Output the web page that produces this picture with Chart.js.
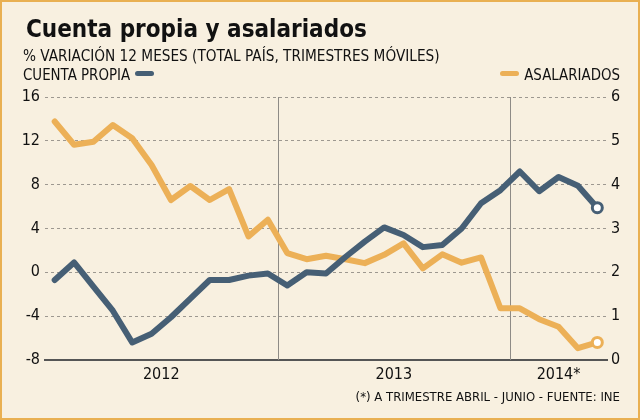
<!DOCTYPE html>
<html lang="es">
<head>
<meta charset="UTF-8">
<title>Cuenta propia y asalariados</title>
<script src="https://cdn.jsdelivr.net/npm/chart.js"></script>
<style>
  html, body { margin: 0; padding: 0; }
  body {
    width: 640px; height: 420px; position: relative; overflow: hidden;
    background: #f8f0e0; color: #111;
    font-family: 'DejaVu Sans Condensed', 'Liberation Sans Narrow', sans-serif;
  }
  #chart { position: absolute; left: 0; top: 0; }
  #frame {
    position: absolute; left: 0; top: 0; width: 640px; height: 420px;
    box-sizing: border-box; border: 2px solid #e9b052; pointer-events: none;
  }
  .txt { position: absolute; white-space: nowrap; line-height: 1; }
  #title { left: 26px; top: 16.5px; font-size: 24px; font-weight: bold; }
  #subtitle { left: 23px; top: 47.5px; font-size: 16px; transform: scaleX(0.95); transform-origin: left; }
  #legLeft { left: 23px; top: 66.5px; font-size: 16px; }
  #legLeft .lbl { display: inline-block; transform: scaleX(0.93); transform-origin: left; margin-right: -8px; }
  #legRight { right: 20px; top: 66.5px; font-size: 16px; }
  #legRight .lbl { display: inline-block; transform: scaleX(0.93); transform-origin: right; margin-left: -7px; }
  .swatch { display: inline-block; width: 19px; height: 5px; border-radius: 3px; vertical-align: 3.5px; }
  #note { right: 20px; top: 389.5px; font-size: 13px; }
</style>
</head>
<body>
  <canvas id="chart" width="640" height="420"></canvas>
  <div class="txt" id="title">Cuenta propia y asalariados</div>
  <div class="txt" id="subtitle">% VARIACIÓN 12 MESES (TOTAL PAÍS, TRIMESTRES MÓVILES)</div>
  <div class="txt" id="legLeft"><span class="lbl">CUENTA PROPIA</span> <span class="swatch" style="background:#465f75"></span></div>
  <div class="txt" id="legRight"><span class="swatch" style="background:#ecb057"></span> <span class="lbl">ASALARIADOS</span></div>
  <div class="txt" id="note">(*) A TRIMESTRE ABRIL - JUNIO - FUENTE: INE</div>
  <div id="frame"></div>
<script>
  // moving quarters, dic-feb 2012 .. abr-jun 2014
  const periods = [
    'DEF 2012', 'EFM 2012', 'FMA 2012', 'MAM 2012', 'AMJ 2012', 'MJJ 2012',
    'JJA 2012', 'JAS 2012', 'ASO 2012', 'SON 2012', 'OND 2012', 'NDE 2012',
    'DEF 2013', 'EFM 2013', 'FMA 2013', 'MAM 2013', 'AMJ 2013', 'MJJ 2013',
    'JJA 2013', 'JAS 2013', 'ASO 2013', 'SON 2013', 'OND 2013', 'NDE 2013',
    'DEF 2014', 'EFM 2014', 'FMA 2014', 'MAM 2014', 'AMJ 2014'
  ];
  const years = ['2012', '2013', '2014*'];
  const yearCenters = [5.5, 17.5, 26];
  const yearBreaks = [11.5, 23.5];

  const cuentaPropia = [-0.7, 0.9, -1.3, -3.5, -6.4, -5.6, -4.1, -2.4, -0.7, -0.7, -0.3, -0.1,
                        -1.2, 0.0, -0.1, 1.4, 2.8, 4.1, 3.4, 2.3, 2.5, 4.0, 6.3, 7.5,
                        9.2, 7.4, 8.7, 7.9, 5.9];
  const asalariados = [5.44, 4.91, 4.98, 5.36, 5.06, 4.45, 3.65, 3.97, 3.65, 3.90, 2.82, 3.20,
                       2.44, 2.30, 2.38, 2.30, 2.21, 2.40, 2.66, 2.09, 2.41, 2.22, 2.34, 1.18,
                       1.18, 0.93, 0.76, 0.27, 0.40];

  const DARK = '#465f75';
  const ORANGE = '#ecb057';
  const FONT = "'DejaVu Sans Condensed', 'Liberation Sans Narrow', sans-serif";

  // thin vertical lines between years
  const yearLines = {
    id: 'yearLines',
    beforeDatasetsDraw(chart) {
      const { ctx, chartArea, scales } = chart;
      ctx.save();
      ctx.strokeStyle = '#8e8b86';
      ctx.lineWidth = 1;
      yearBreaks.forEach(v => {
        const px = Math.round(scales.x.getPixelForValue(v)) + 0.5;
        ctx.beginPath();
        ctx.moveTo(px, chartArea.top);
        ctx.lineTo(px, chartArea.bottom);
        ctx.stroke();
      });
      ctx.restore();
    }
  };

  function lastPoint(arr, r) {
    return ctx => ctx.dataIndex === arr.length - 1 ? r : 0;
  }

  new Chart(document.getElementById('chart'), {
    type: 'line',
    data: {
      datasets: [{
        label: 'Cuenta propia',
        data: cuentaPropia.map((v, i) => ({ x: i, y: v })),
        yAxisID: 'y',
        borderColor: DARK,
        borderWidth: 6,
        borderJoinStyle: 'round',
        borderCapStyle: 'round',
        pointRadius: lastPoint(cuentaPropia, 5),
        pointBackgroundColor: '#fff',
        pointBorderColor: DARK,
        pointBorderWidth: 3,
        order: 0
      }, {
        label: 'Asalariados',
        data: asalariados.map((v, i) => ({ x: i, y: v })),
        yAxisID: 'y1',
        borderColor: ORANGE,
        borderWidth: 6,
        borderJoinStyle: 'round',
        borderCapStyle: 'round',
        pointRadius: lastPoint(asalariados, 5),
        pointBackgroundColor: '#fff',
        pointBorderColor: ORANGE,
        pointBorderWidth: 3,
        order: 1
      }]
    },
    options: {
      responsive: false,
      animation: false,
      layout: { padding: { top: 97, left: 0, right: 0, bottom: 0 } },
      plugins: { legend: { display: false }, tooltip: { enabled: false } },
      scales: {
        x: {
          type: 'linear',
          min: -0.5,
          max: 28.5,
          afterBuildTicks: s => { s.ticks = yearCenters.map(v => ({ value: v })); },
          afterFit: s => { s.height = 60; },
          ticks: {
            callback: (v, i) => years[i],
            autoSkip: false,
            maxRotation: 0,
            padding: 5,
            color: '#111',
            font: { family: FONT, size: 16 }
          },
          grid: { display: false, drawTicks: false },
          border: { display: true, color: '#555', width: 2 }
        },
        y: {
          position: 'left',
          min: -8,
          max: 16,
          afterFit: s => { s.width = 45; },
          ticks: { stepSize: 4, padding: 5, color: '#111', font: { family: FONT, size: 16 } },
          grid: {
            drawTicks: false,
            lineWidth: 1,
            color: c => c.tick && c.tick.value === -8 ? 'rgba(0,0,0,0)' : '#9d9890'
          },
          border: { display: false, dash: [3, 3] }
        },
        y1: {
          position: 'right',
          min: 0,
          max: 6,
          afterFit: s => { s.width = 33; },
          ticks: { stepSize: 1, padding: 4, color: '#111', font: { family: FONT, size: 16 } },
          grid: { drawOnChartArea: false, drawTicks: false },
          border: { display: false }
        }
      }
    },
    plugins: [yearLines]
  });
</script>
</body>
</html>
